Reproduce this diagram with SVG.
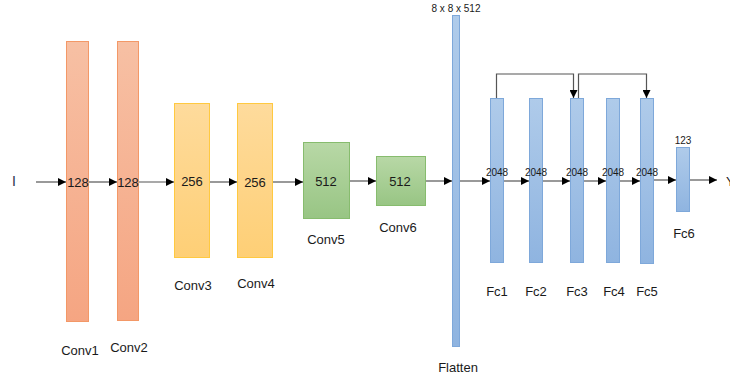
<svg xmlns="http://www.w3.org/2000/svg" width="730" height="379" viewBox="0 0 730 379">
<defs>
<linearGradient id="gO" x1="0" y1="0" x2="0" y2="1"><stop offset="0" stop-color="#F7C0A4"/><stop offset="1" stop-color="#F5A582"/></linearGradient>
<linearGradient id="gY" x1="0" y1="0" x2="0" y2="1"><stop offset="0" stop-color="#FEDB9C"/><stop offset="1" stop-color="#FECF76"/></linearGradient>
<linearGradient id="gG" x1="0" y1="0" x2="0" y2="1"><stop offset="0" stop-color="#B8D8A6"/><stop offset="1" stop-color="#98C584"/></linearGradient>
<linearGradient id="gB" x1="0" y1="0" x2="0" y2="1"><stop offset="0" stop-color="#AFCBEA"/><stop offset="1" stop-color="#8FB4E0"/></linearGradient>
<marker id="ah" viewBox="0 0 10 10" refX="10" refY="5" markerWidth="9" markerHeight="8" markerUnits="userSpaceOnUse" orient="auto"><path d="M0,0 L10,5 L0,10 z" fill="#000"/></marker>
</defs>
<style>
text{font-family:"Liberation Sans",Arial,sans-serif;fill:#1a1a1a;}
.lbl{font-size:13px;text-anchor:middle;}
.num{font-size:13px;text-anchor:middle;}
.sm{font-size:10px;text-anchor:middle;}
.xs{font-size:10px;text-anchor:middle;}
.o{fill:url(#gO);stroke:#F39867;stroke-width:1;}
.y{fill:url(#gY);stroke:#FFC940;stroke-width:1;}
.g{fill:url(#gG);stroke:#87BC6E;stroke-width:1;}
.b{fill:url(#gB);stroke:#7EA8DA;stroke-width:1;}
.c{stroke:#555;stroke-width:1.2;fill:none;marker-end:url(#ah);}
</style>
<rect width="730" height="379" fill="#fff"/>
<text x="12" y="186" style="font-size:14px;fill:#1f2d4d">I</text>
<text x="726" y="186" style="font-size:13px">Y</text>
<g id="conv1"><rect class="o" x="66.5" y="41.5" width="22" height="280"/><text class="num" x="78" y="187">128</text><text class="lbl" x="80" y="355">Conv1</text></g>
<g id="conv2"><rect class="o" x="117.5" y="41.5" width="21" height="279"/><text class="num" x="128" y="187">128</text><text class="lbl" x="129" y="352">Conv2</text></g>
<g id="conv3"><rect class="y" x="174.5" y="103.5" width="35" height="154"/><text class="num" x="192" y="186">256</text><text class="lbl" x="193" y="290">Conv3</text></g>
<g id="conv4"><rect class="y" x="237.5" y="103.5" width="35" height="154"/><text class="num" x="255" y="187">256</text><text class="lbl" x="256" y="288">Conv4</text></g>
<g id="conv5"><rect class="g" x="303.5" y="142.5" width="46" height="76"/><text class="num" x="326" y="186">512</text><text class="lbl" x="326" y="244">Conv5</text></g>
<g id="conv6"><rect class="g" x="376.5" y="156.5" width="49" height="49"/><text class="num" x="400" y="186">512</text><text class="lbl" x="398" y="232">Conv6</text></g>
<g id="flatten"><rect class="b" x="452.5" y="15.5" width="7" height="331"/><text class="xs" x="456" y="12">8 x 8 x 512</text><text class="lbl" x="458" y="372">Flatten</text></g>
<g id="fc1"><rect class="b" x="490.5" y="98.5" width="13" height="164"/><text class="sm" x="497" y="176">2048</text><text class="lbl" x="497" y="296">Fc1</text></g>
<g id="fc2"><rect class="b" x="529.5" y="98.5" width="13" height="164"/><text class="sm" x="536" y="176">2048</text><text class="lbl" x="536" y="296">Fc2</text></g>
<g id="fc3"><rect class="b" x="570.5" y="98.5" width="13" height="164"/><text class="sm" x="577" y="176">2048</text><text class="lbl" x="577" y="296">Fc3</text></g>
<g id="fc4"><rect class="b" x="606.5" y="98.5" width="13" height="164"/><text class="sm" x="613" y="176">2048</text><text class="lbl" x="614" y="296">Fc4</text></g>
<g id="fc5"><rect class="b" x="640.5" y="98.5" width="13" height="165"/><text class="sm" x="647" y="176">2048</text><text class="lbl" x="647" y="296">Fc5</text></g>
<g id="fc6"><rect class="b" x="676.5" y="147.5" width="13" height="64"/><text class="xs" x="683" y="144">123</text><text class="lbl" x="684" y="238">Fc6</text></g>
<g id="connectors">
<line class="c" x1="36" y1="182" x2="66" y2="182"/>
<line class="c" x1="89" y1="182" x2="117" y2="182"/>
<line class="c" x1="139" y1="182" x2="174" y2="182"/>
<line class="c" x1="210" y1="182" x2="237" y2="182"/>
<line class="c" x1="273" y1="182" x2="303" y2="182"/>
<line class="c" x1="350" y1="181" x2="376" y2="181"/>
<line class="c" x1="426" y1="181" x2="452" y2="181"/>
<line class="c" x1="460" y1="181" x2="490" y2="181"/>
<line class="c" x1="504" y1="181" x2="529" y2="181"/>
<line class="c" x1="543" y1="181" x2="570" y2="181"/>
<line class="c" x1="584" y1="181" x2="606" y2="181"/>
<line class="c" x1="620" y1="181" x2="640" y2="181"/>
<line class="c" x1="654" y1="180" x2="676" y2="180"/>
<line class="c" x1="690" y1="180" x2="717" y2="180"/>
<path class="c" d="M496.5,98 V74 H573.5 V98" stroke="#444"/>
<path class="c" d="M578.5,98 V74 H646.5 V98" stroke="#444"/>
</g>
</svg>
